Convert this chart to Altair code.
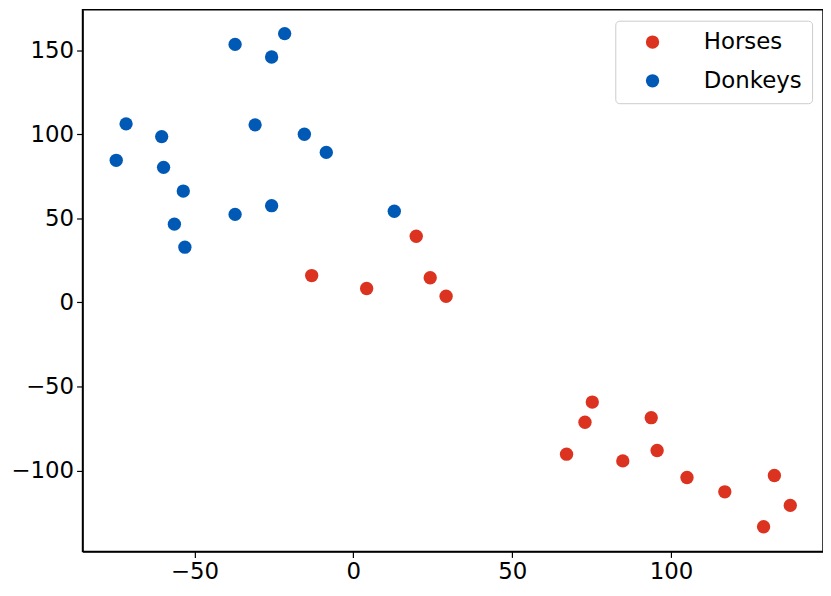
import altair as alt
import pandas as pd

horses_x = [19.8, -13.1, 4.2, 24.2, 29.2, 75.2, 72.9, 67.1, 84.8, 93.75, 95.6, 105.0, 116.9, 132.5, 137.5, 129.1]
horses_y = [39.4, 16.0, 8.3, 14.7, 3.7, -59.3, -71.3, -90.3, -94.3, -68.6, -88.1, -104.2, -112.7, -103.0, -120.8, -133.5]

donkeys_x = [-74.6, -71.5, -60.3, -59.7, -53.5, -56.3, -53.0, -37.2, -37.2, -30.9, -25.7, -21.6, -25.7, -15.4, -8.5, 12.9]
donkeys_y = [84.6, 106.3, 98.7, 80.4, 66.3, 46.6, 32.9, 153.6, 52.4, 105.7, 146.1, 160.0, 57.6, 100.1, 89.3, 54.3]

groups = ["Horses", "Donkeys"]
colors = ["#DC3220", "#005AB5"]

x_ticks = [-50, 0, 50, 100]
y_ticks = [-100, -50, 0, 50, 100, 150]

df = pd.concat([
    pd.DataFrame({"x": horses_x, "y": horses_y, "group": "Horses"}),
    pd.DataFrame({"x": donkeys_x, "y": donkeys_y, "group": "Donkeys"}),
])

font = "DejaVu Sans"
fs = 23

axis_common = dict(title=None, grid=False, labelFontSize=fs, labelColor="black",
                   tickColor="black", domainColor="black", tickSize=6, tickWidth=1.2,
                   domainWidth=1.5, labelPadding=3, labelFont=font)

chart = alt.Chart(df).mark_circle(size=180, opacity=1).encode(
    x=alt.X("x:Q", scale=alt.Scale(domain=[-85.2, 147.8], nice=False, zero=False),
            axis=alt.Axis(values=x_ticks, **axis_common)),
    y=alt.Y("y:Q", scale=alt.Scale(domain=[-148.2, 174.2], nice=False, zero=False),
            axis=alt.Axis(values=y_ticks, **axis_common)),
    color=alt.Color("group:N", scale=alt.Scale(domain=groups, range=colors),
                    legend=alt.Legend(title=None, orient="top-right", offset=11,
                                      labelFontSize=fs, labelFont=font, labelColor="black",
                                      symbolSize=180, symbolType="circle", symbolOffset=16,
                                      labelOffset=40, rowPadding=15, padding=10,
                                      strokeColor="#cccccc", cornerRadius=4,
                                      fillColor="white", symbolStrokeWidth=0)),
).properties(
    width=745,
    height=545,
    autosize=alt.AutoSizeParams(type="none"),
    padding={"left": 75, "top": 0, "right": 0, "bottom": 34},
).configure_view(
    stroke="black", strokeWidth=1.5
)

chart.save("out.html", embed_options={"renderer": "svg", "actions": False})
